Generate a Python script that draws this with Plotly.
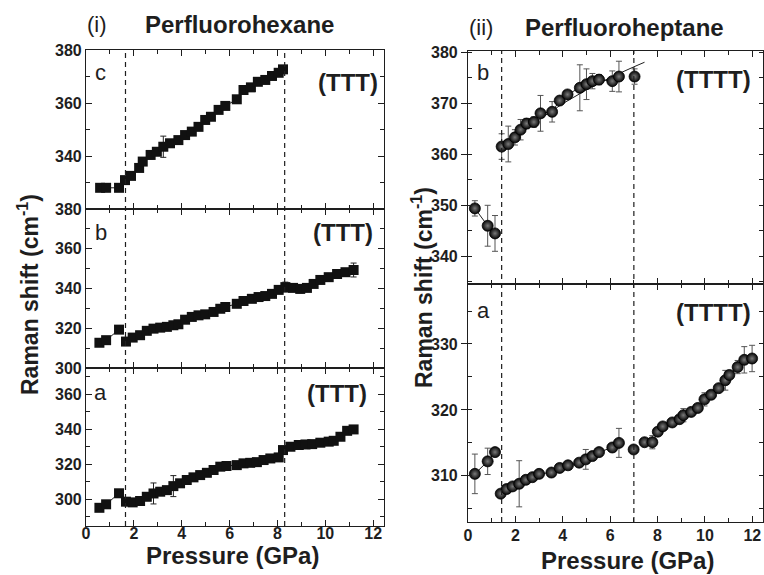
import plotly.graph_objects as go

# (i) Perfluorohexane -------------------------------------------------------------------------------------------
hex_c_p = [0.59, 0.84, 1.38, None, 1.63, 1.88, 2.22, 2.37, 2.70, 2.96, 3.23, 3.51, 3.86, 4.14, 4.42, 4.70, 4.98,
           5.22, 5.54, 5.82, 6.30, 6.58, 6.89, 7.18, 7.49, 7.77, 8.05, 8.23]
hex_c_w = [328.0, 328.0, 328.0, None, 330.9, 332.5, 335.5, 337.9, 340.4, 341.6, 343.5, 344.8, 346.0, 347.9, 349.2,
           351.0, 353.6, 354.8, 357.4, 358.9, 361.4, 364.9, 365.9, 368.0, 368.7, 370.2, 371.4, 372.7]
hex_c_e = [0, 0, 0, 0, 1, 1, 0.5, 1, 1.5, 1, 4, 1, 1, 0.5, 0.5, 1, 0.5, 1, 0.5, 0.5, 0.5, 0.5, 1, 0.5, 1, 0.5, 0.5, 1]

hex_b_p = [0.56, 0.84, 1.38, None, 1.67, 1.95, 2.26, 2.54, 2.82, 3.10, 3.38, 3.65, 3.86, 4.14, 4.42, 4.70, 4.98,
           5.33, 5.61, 5.82, 6.30, 6.58, 6.93, 7.21, 7.49, 7.77, 8.05, 8.33, 8.65, 8.95, 9.23, 9.51, 9.79,
           10.14, 10.49, 10.84, 11.18]
hex_b_w = [312.7, 314.0, 319.3, None, 313.3, 315.3, 316.5, 318.7, 319.8, 320.3, 320.7, 321.5, 322.0, 324.3, 325.7,
           326.5, 327.0, 328.2, 329.8, 330.7, 332.3, 333.7, 334.8, 335.7, 336.2, 337.3, 339.3, 340.7, 340.3,
           339.8, 340.3, 342.3, 344.3, 345.7, 347.3, 348.2, 349.3]
hex_b_e = [0, 0, 0, 0, 1, 0.5, 0.5, 0.5, 0.5, 0.5, 0.5, 0.5, 0.5, 0.5, 0.5, 0.5, 0.5, 0.5, 0.5, 0.5, 0.5, 0.5,
           0.5, 0.5, 0.5, 0.5, 1, 2.5, 1, 2, 1.5, 1, 1, 1, 1, 1.5, 3.5]

hex_a_p = [0.56, 0.84, 1.38, None, 1.67, 1.95, 2.26, 2.54, 2.82, 3.10, 3.38, 3.65, 3.93, 4.21, 4.49, 4.77, 5.05,
           5.33, 5.61, 5.87, 6.30, 6.58, 6.86, 7.14, 7.42, 7.70, 8.05, 8.23, 8.54, 8.89, 9.17, 9.45, 9.79,
           10.14, 10.35, 10.63, 10.91, 11.18]
hex_a_w = [295.0, 297.0, 303.3, None, 298.5, 298.1, 298.9, 301.3, 303.2, 304.2, 305.1, 307.4, 309.0, 310.9, 312.4,
           313.7, 315.0, 316.6, 318.5, 318.9, 319.4, 320.4, 320.7, 321.1, 322.3, 323.2, 323.8, 328.0, 329.9,
           330.9, 331.2, 331.4, 332.2, 332.8, 333.3, 335.6, 339.0, 339.8]
hex_a_e = [0, 0, 0, 0, 0, 0, 1, 1, 6, 1, 1, 6, 1, 0.5, 0.5, 0.5, 0.5, 0.5, 0.5, 0.5, 0.5, 0.5, 0.5, 0.5, 0.5,
           0.5, 0.5, 0.5, 0.5, 0.5, 0.5, 0.5, 0.5, 0.5, 0.5, 0.5, 0.5, 0.5]

# (ii) Perfluoroheptane -----------------------------------------------------------------------------------------
hep_b_p = [0.29, 0.83, 1.14, None, 1.42, 1.70, 1.98, 2.22, 2.47, 2.78, 3.06, 3.55, 3.87, 4.20, 4.72, 5.00, 5.25,
           5.53, 6.09, 6.37, None, 7.03]
hep_b_w = [349.4, 346.0, 344.5, None, 361.5, 362.0, 363.3, 364.8, 366.0, 366.3, 368.0, 368.3, 370.5, 371.7,
           373.0, 373.7, 374.3, 374.6, 374.3, 375.2, None, 375.2]
hep_b_e = [1.5, 4, 3.5, 0, 2.5, 3.5, 1.5, 2, 1, 1, 3.5, 2, 0.5, 0.5, 4.5, 3, 1.5, 1, 2, 3, 0, 1.5]
fit_b_p = [1.40, 2.0, 3.0, 4.0, 5.0, 6.0, 7.0, 7.45]
fit_b_w = [361.0, 363.3, 366.8, 369.9, 372.6, 375.0, 377.1, 378.0]

hep_a_p = [0.29, 0.83, 1.14, None, 1.38, 1.63, 1.88, 2.16, 2.44, 2.72, 3.00, 3.52, 3.87, 4.22, 4.69, 4.97, 5.25,
           5.53, 6.09, 6.37, None, 6.99, None, 7.45, 7.78, 8.01, 8.22, 8.62, 8.93, 9.09, 9.42, 9.70, 9.98,
           10.26, 10.58, 10.86, 11.03, 11.38, 11.66, 11.99]
hep_a_w = [310.3, 312.2, 313.6, None, 307.3, 308.0, 308.4, 308.8, 309.4, 309.8, 310.3, 310.5, 311.2, 311.6, 312.0,
           312.5, 313.0, 313.6, 314.3, 315.0, None, 314.0, None, 315.1, 315.1, 316.7, 317.5, 318.1, 318.6,
           319.2, 319.7, 320.3, 321.6, 322.3, 323.3, 324.5, 325.3, 326.5, 327.6, 327.8]
hep_a_e = [3, 2, 0.5, 0, 0.5, 0.5, 0.5, 3.5, 0.5, 0.5, 0.5, 0.5, 0.5, 0.5, 0.5, 1.5, 0.5, 0.5, 0.5, 2.2, 0, 0.5,
           0, 0.5, 1, 0.5, 0.5, 0.5, 0.5, 1, 0.5, 0.5, 1, 0.5, 0.5, 1.5, 0.5, 1, 2, 2]

FONT = "Arial, Liberation Sans, sans-serif"
INK = "#1e1e1e"


def squares(x, y, e, xa, ya):
    return go.Scatter(x=x, y=y, xaxis=xa, yaxis=ya, mode="lines+markers", showlegend=False,
                      line=dict(color=INK, width=1),
                      marker=dict(symbol="square", size=10, color="#111"),
                      error_y=dict(type="data", array=e, color="#222", thickness=1, width=3))


def spheres(x, y, e, xa, ya):
    return go.Scatter(x=x, y=y, xaxis=xa, yaxis=ya, mode="lines+markers", showlegend=False,
                      line=dict(color=INK, width=1),
                      marker=dict(symbol="circle", size=11, color="#050505",
                                  gradient=dict(type="radial", color="#7a7a7a"),
                                  line=dict(color="black", width=0.8)),
                      error_y=dict(type="data", array=e, color="#555", thickness=1, width=3))


fig = go.Figure()
fig.add_trace(squares(hex_a_p, hex_a_w, hex_a_e, "x", "y"))
fig.add_trace(squares(hex_b_p, hex_b_w, hex_b_e, "x2", "y2"))
fig.add_trace(squares(hex_c_p, hex_c_w, hex_c_e, "x3", "y3"))
fig.add_trace(go.Scatter(x=fit_b_p, y=fit_b_w, xaxis="x5", yaxis="y5", mode="lines", showlegend=False,
                         line=dict(color=INK, width=1)))
fig.add_trace(spheres(hep_a_p, hep_a_w, hep_a_e, "x4", "y4"))
fig.add_trace(spheres(hep_b_p, hep_b_w, hep_b_e, "x5", "y5"))

tickfont = dict(family=FONT, size=16, color=INK, weight="bold")


def xax(domain, anchor, labels, standoff=0):
    return dict(domain=domain, anchor=anchor, range=[0, 12.45], dtick=2, tick0=0, ticks="inside", ticklen=6,
                tickwidth=1, minor=dict(dtick=1, ticks="inside", ticklen=4, tickwidth=1, tickcolor=INK),
                showline=True, linecolor=INK, linewidth=1.2, mirror="ticks", showgrid=False,
                zeroline=False, showticklabels=labels, tickfont=tickfont, tickcolor=INK,
                ticklabelstandoff=standoff, automargin=False)


def yax(domain, anchor, rng, vals, minor_dt, out=False):
    return dict(domain=domain, anchor=anchor, range=rng, tickmode="array", tickvals=vals,
                ticks="outside" if out else "inside", ticklen=6, tickwidth=1, tickcolor=INK,
                minor=dict(dtick=minor_dt, tick0=0, ticks="inside", ticklen=4, tickwidth=1, tickcolor=INK),
                showline=True, linecolor=INK, linewidth=1.2, mirror="ticks", showgrid=False,
                zeroline=False, tickfont=tickfont, automargin=False)


LX = [86 / 764, 384 / 764]
RX = [468 / 764, 763 / 764]

fig.update_layout(
    width=764, height=575, margin=dict(l=0, r=0, t=0, b=0, autoexpand=False),
    paper_bgcolor="white", plot_bgcolor="white",
    font=dict(family=FONT, color=INK),
    xaxis=xax(LX, "y", True, -7),
    xaxis2=xax(LX, "y2", False),
    xaxis3=xax(LX, "y3", False),
    xaxis4=xax(RX, "y4", True, -1),
    xaxis5=xax(RX, "y5", False),
    yaxis=yax([1 - 526 / 575, 1 - 368 / 575], "x", [284.6, 374.9], [300, 320, 340, 360], 10),
    yaxis2=yax([1 - 368 / 575, 1 - 209 / 575], "x2", [300, 380], [300, 320, 340, 360, 380], 10),
    yaxis3=yax([1 - 209 / 575, 1 - 50 / 575], "x3", [320, 380], [340, 360, 380], 10),
    yaxis4=yax([1 - 522 / 575, 1 - 284 / 575], "x4", [303.0, 339.1], [310, 320, 330], 5, out=True),
    yaxis5=yax([1 - 284 / 575, 1 - 51 / 575], "x5", [334.6, 380.2], [340, 350, 360, 370, 380], 5, out=True),
)

# dashed transition lines
for xv in [1.65, 8.3]:
    fig.add_shape(type="line", xref="x", yref="paper", x0=xv, x1=xv, y0=1 - 526 / 575, y1=1 - 50 / 575,
                  line=dict(color=INK, width=1.2, dash="5px,4px"))
for xv in [1.42, 7.0]:
    fig.add_shape(type="line", xref="x4", yref="paper", x0=xv, x1=xv, y0=1 - 522 / 575, y1=1 - 51 / 575,
                  line=dict(color=INK, width=1.2, dash="5px,4px"))


def label(text, px, py, size=18, bold=False, angle=0):
    fig.add_annotation(text=text, x=px / 764, y=1 - py / 575, xref="paper", yref="paper", showarrow=False,
                       xanchor="center", yanchor="middle", textangle=angle,
                       font=dict(family=FONT, size=size, color=INK, weight="bold" if bold else "normal"))


label("(i)", 97, 25, 22)
label("Perfluorohexane", 239, 25, 24, True)
label("(ii)", 481, 27, 22)
label("Perfluoroheptane", 624, 27, 24, True)
label("c", 101, 72, 22)
label("b", 101, 233, 22)
label("a", 101, 392, 22)
label("(TTT)", 348, 82, 24, True)
label("(TTT)", 343, 233, 24, True)
label("(TTT)", 337, 393, 24, True)
label("b", 483, 72, 22)
label("a", 483, 310, 22)
label("(TTTT)", 713, 80, 24, True)
label("(TTTT)", 713, 312, 24, True)
label("Pressure (GPa)", 232, 555, 24, True)
label("Pressure (GPa)", 627, 560, 24, True)
label("Raman shift (cm<sup>-1</sup>)", 28, 295, 23, True, -90)
label("Raman shift (cm<sup>-1</sup>)", 422, 288, 23, True, -90)

# page body has a default margin; drop it so the figure sits at the window origin
fig.write_html("out.html", config={"displayModeBar": False},
               post_script="document.body.style.margin='0';document.body.style.overflow='hidden';")
